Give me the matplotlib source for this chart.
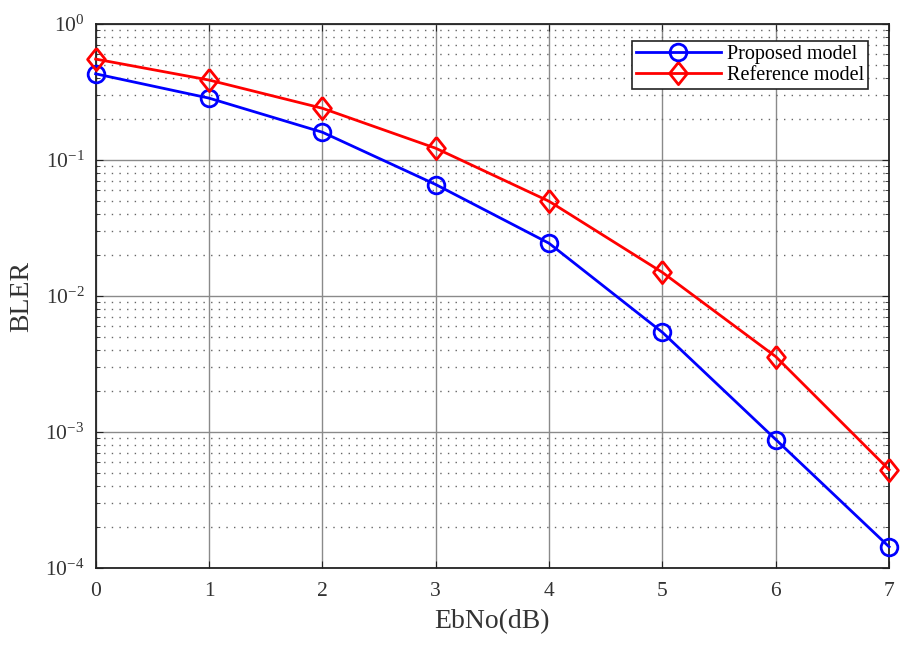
import matplotlib
matplotlib.use("Agg")
import matplotlib.pyplot as plt
import numpy as np
from matplotlib.ticker import LogLocator, NullFormatter

# Data
ebno = [0, 1, 2, 3, 4, 5, 6, 7]
bler_proposed = [0.43, 0.285, 0.16, 0.066, 0.0244, 0.0054, 0.00088, 0.000143]
bler_reference = [0.552, 0.387, 0.24, 0.122, 0.0497, 0.0149, 0.00358, 0.000527]

plt.rcParams.update({
    "font.family": ["Liberation Serif", "DejaVu Serif"],
    "mathtext.fontset": "stix",
    "axes.linewidth": 1.3,
    "axes.edgecolor": "#222222",
})

# tall diamond like MATLAB's 'd' marker in the reference
tall_diamond = [(0, 1), (0.8, 0), (0, -1), (-0.8, 0), (0, 1)]

fig = plt.figure(figsize=(9.11, 6.48), dpi=100)
ax = fig.add_axes([0.105, 0.1235, 0.871, 0.8395])

ax.semilogy(ebno, bler_proposed, color="blue", linewidth=2, marker="o",
            markersize=12, markerfacecolor="none", markeredgewidth=2,
            label="Proposed model", clip_on=False, zorder=3)
ax.semilogy(ebno, bler_reference, color="red", linewidth=2, marker=tall_diamond,
            markersize=16, markerfacecolor="none", markeredgewidth=2,
            label="Reference model", clip_on=False, zorder=3)

ax.set_xlim(0, 7)
ax.set_ylim(1e-4, 1)
ax.set_xticks(ebno)
ax.yaxis.set_major_locator(LogLocator(base=10, numticks=10))
ax.yaxis.set_minor_locator(LogLocator(base=10, subs=np.arange(2, 10), numticks=50))
ax.yaxis.set_minor_formatter(NullFormatter())

ax.grid(which="major", color="#8a8a8a", linestyle="-", linewidth=1.0)
ax.grid(which="minor", axis="y", color="#666666", linestyle=(0, (1, 4.5)), linewidth=1.0)

ax.tick_params(which="both", direction="in", top=True, right=True, labelsize=15.5,
               colors="#222222", labelcolor="#333333")
ax.tick_params(which="major", length=5)
ax.tick_params(which="minor", length=3)
ax.tick_params(axis="x", pad=10)
ax.tick_params(axis="y", pad=8)

ax.set_xlabel("EbNo(dB)", fontsize=20, color="#333333", labelpad=6)
ax.set_ylabel("BLER", fontsize=20, color="#333333", labelpad=8)

leg = ax.legend(loc="upper right", bbox_to_anchor=(0.9735, 0.9688), fontsize=14.5,
                fancybox=False, framealpha=1, edgecolor="#222222",
                handlelength=4.2, borderpad=0.2, labelspacing=0.1,
                handletextpad=0.3, borderaxespad=0.0)
leg.get_frame().set_linewidth(1.2)

fig.savefig("out.png", dpi=100)
